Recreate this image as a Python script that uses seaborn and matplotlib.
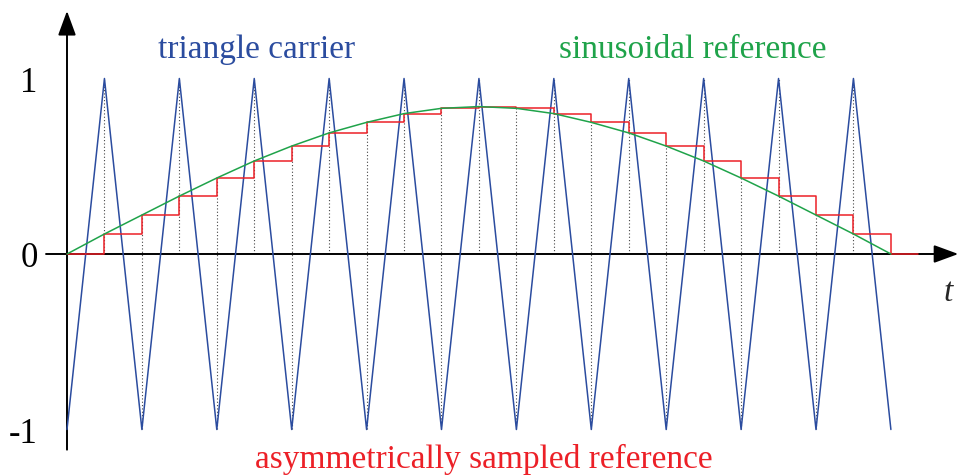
import matplotlib
matplotlib.use("Agg")
import matplotlib.pyplot as plt
import seaborn as sns
import numpy as np
import pandas as pd

# sampling instants (in carrier periods): every half period, at peaks and troughs
sample_t = [0.0, 0.5, 1.0, 1.5, 2.0, 2.5, 3.0, 3.5, 4.0, 4.5, 5.0, 5.5,
            6.0, 6.5, 7.0, 7.5, 8.0, 8.5, 9.0, 9.5, 10.0, 10.5, 11.0]
# triangle carrier vertices
carrier_v = [-1, 1, -1, 1, -1, 1, -1, 1, -1, 1, -1, 1,
             -1, 1, -1, 1, -1, 1, -1, 1, -1, 1, -1]
# sinusoidal reference read at the sampling instants
reference_v = [0.0, 0.114, 0.222, 0.33, 0.433, 0.53, 0.615, 0.69, 0.75, 0.80, 0.83, 0.84,
               0.83, 0.80, 0.75, 0.69, 0.615, 0.53, 0.433, 0.33, 0.222, 0.114, 0.0]
# held value continues a bit past the last sample
hold_end_t = 11.36

blue = "#2b4c9f"
green = "#1fa34a"
red = "#ec2027"
axis_col = "#333333"

sns.set_style("white")
plt.rcParams["font.family"] = ["Liberation Serif", "DejaVu Serif"]

fig = plt.figure(figsize=(9.58, 4.77), dpi=100)
ax = fig.add_axes([0, 0, 1, 1])
ax.set_xlim(-0.8945, 11.896)
ax.set_ylim(-1.265, 1.453)
for s in ax.spines.values():
    s.set_visible(False)
ax.spines["left"].set_position(("data", 0))

t = np.array(sample_t)
c = np.array(carrier_v)
r = np.array(reference_v)

# dotted sampling lines (skip first and last instant)
inner = slice(1, len(t) - 1)
ymin = np.where(c[inner] > 0, 0, -1)
ymax = np.where(c[inner] > 0, 1, r[inner])
ax.vlines(t[inner], ymin, ymax, colors="#444444", linestyles=(0, (1, 2)), linewidth=0.8, zorder=1)

carrier_df = pd.DataFrame({"t": t, "v": c})
sns.lineplot(data=carrier_df, x="t", y="v", color=blue, linewidth=1.1, ax=ax, zorder=3)

stairs_df = pd.DataFrame({"t": list(sample_t) + [hold_end_t],
                          "v": list(reference_v) + [reference_v[-1]]})
sns.lineplot(data=stairs_df, x="t", y="v", color=red, linewidth=1.1,
             drawstyle="steps-post", ax=ax, zorder=4)

ref_df = pd.DataFrame({"t": t, "v": r})
sns.lineplot(data=ref_df, x="t", y="v", color=green, linewidth=1.1, ax=ax, zorder=5)

# axes with arrows
arrow = dict(arrowstyle="-|>,head_length=1.5,head_width=0.55", color="black",
             lw=1.4, mutation_scale=10, shrinkA=0, shrinkB=0)
ax.annotate("", xy=(11.9, 0), xytext=(-0.28, 0), arrowprops=arrow, zorder=2)
ax.annotate("", xy=(0, 1.385), xytext=(0, -1.115), arrowprops=arrow, zorder=2)

ax.set_xticks([])
ax.set_yticks([-1, 0, 1])
ax.set_yticklabels(["-1", "0", "1"])
ax.tick_params(axis="y", direction="inout", length=14.4, width=1.2, color=axis_col,
               pad=14, labelsize=25, labelcolor="black")
ax.set_xlabel("")
ax.set_ylabel("")

ax.text(11.76, -0.13, "t", fontsize=24, style="italic", ha="center", va="top")
ax.text(1.21, 1.12, "triangle carrier", fontsize=24, color=blue, ha="left", va="baseline")
ax.text(8.36, 1.12, "sinusoidal reference", fontsize=24, color=green, ha="center", va="baseline")
ax.text(5.57, -1.215, "asymmetrically sampled reference", fontsize=24, color=red,
        ha="center", va="baseline")

fig.savefig("out.png", dpi=100)
